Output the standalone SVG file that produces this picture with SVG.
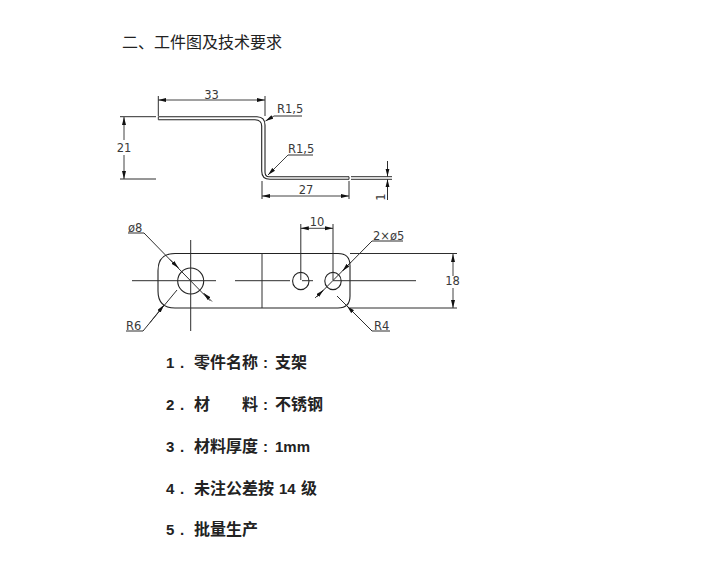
<svg xmlns="http://www.w3.org/2000/svg" width="706" height="561" viewBox="0 0 706 561">
<style>
.l{fill:none;stroke:#2e2e2e;stroke-width:1}
.s{fill:none;stroke:#222;stroke-width:1.1}
.a{fill:none;stroke:#2e2e2e;stroke-width:.9;marker-end:url(#ah)}
.d{fill:none;stroke:#2e2e2e;stroke-width:.9;marker-start:url(#ah);marker-end:url(#ah)}
.c{font-family:"DejaVu Sans",sans-serif;font-size:11.5px;fill:#3a3a3a}
.t{font-family:"Liberation Sans","Noto Sans CJK SC",sans-serif;font-size:15px;font-weight:700;fill:#222}
.z{font-family:"Noto Sans CJK SC",sans-serif;font-size:16px;font-weight:700}
.h{font-family:"Noto Sans CJK SC",sans-serif;font-size:16px;font-weight:400;fill:#222}
</style>
<defs>
<marker id="ah" markerUnits="userSpaceOnUse" markerWidth="9" markerHeight="5" refX="8" refY="2.200" orient="auto-start-reverse"><path d="M0 0.200L8 2.200L0 4.200Z" fill="#111"/></marker>
</defs>
<rect width="706" height="561" fill="#fff"/>
<text id="title" class="h" x="122" y="48">二、工件图及技术要求</text>
<g id="profile">
<path class="s" d="M158.300 116.700H257Q265 117 265 125V172Q265 176.700 269 176.700H349"/>
<path class="s" d="M158.300 119.700H255Q261.700 120 261.700 126V171Q261.700 179.300 270 179.300H349"/>
<path class="l" d="M158.300 116.700V119.700M349 176.700V179.300"/>
<path class="l" d="M351 176.700H392M351 179.300H392"/>
</g>
<g id="plate">
<path class="s" d="M175 253.500H338Q350 253.500 350 265.500V296Q350 308 338 308H175Q158 308 158 291V270.500Q158 253.500 175 253.500Z"/>
<path class="l" d="M262 253.500V308"/>
<circle class="s" cx="190.700" cy="281" r="13"/>
<ellipse class="s" cx="300.800" cy="281" rx="8.200" ry="8.600"/>
<ellipse class="s" cx="333" cy="281" rx="8.200" ry="8.600"/>
<path class="l" d="M132 280.700H216M235 280.700H290M302 280.700H313M333 280.700H416M190.700 240V331"/>
</g>
<g id="connectors">
<path class="l" d="M158.300 96V116M265 96V116"/>
<path class="d" d="M158.300 100H265"/>
<path class="l" d="M120 116.700H156M120 179H156"/>
<path class="a" d="M124 140V117"/>
<path class="a" d="M124 155V179"/>
<path class="l" d="M262 181V199M349 181V199"/>
<path class="d" d="M262 196H349"/>
<path class="l" d="M387.500 161V176M387.500 180V200"/>
<path class="a" d="M387.500 165V176.500"/>
<path class="a" d="M387.500 190V179.300"/>
<path class="l" d="M274 116H302"/>
<path class="a" d="M274 116L265.500 121"/>
<path class="l" d="M288 155H313"/>
<path class="a" d="M288 155L268 175"/>
<path class="l" d="M128 233H144L210 300.700"/>
<path class="a" d="M170 259.500L178.500 268"/>
<path class="a" d="M212 301.500L203.500 293"/>
<path class="l" d="M126 331H143L177 290"/>
<path class="a" d="M150 322.500L164 305"/>
<path class="l" d="M300.800 224V280M333 224V280"/>
<path class="d" d="M300.800 228.300H333"/>
<path class="l" d="M372 241H403M372 241L316.700 297"/>
<path class="a" d="M351 262L342.500 271"/>
<path class="a" d="M315 298L323.500 290"/>
<path class="l" d="M337 296L372 331H390"/>
<path class="a" d="M360 319L347 306"/>
<path class="l" d="M350 253.500H457M350 308H457"/>
<path class="a" d="M453 276V254"/>
<path class="a" d="M453 288V308"/>
</g>
<g id="dim-labels">
<text class="c" x="211.500" y="99" text-anchor="middle">33</text>
<text class="c" x="124" y="152" text-anchor="middle">21</text>
<text class="c" x="277" y="113">R1,5</text>
<text class="c" x="288" y="153">R1,5</text>
<text class="c" x="306" y="194" text-anchor="middle">27</text>
<text class="c" transform="translate(385 197) rotate(-90)" text-anchor="middle" x="0" y="0">1</text>
<text class="c" x="128" y="232">ø8</text>
<text class="c" x="126" y="330">R6</text>
<text class="c" x="317" y="226" text-anchor="middle">10</text>
<text class="c" x="373" y="240">2×ø5</text>
<text class="c" x="374" y="330">R4</text>
<text class="c" x="452.500" y="285" text-anchor="middle">18</text>
</g>
<g id="requirements">
<text class="t" y="368"><tspan x="166">1</tspan><tspan x="180">.</tspan><tspan x="194" class="z">零件名称</tspan><tspan x="263">:</tspan><tspan x="275" class="z">支架</tspan></text>
<text class="t" y="410"><tspan x="166">2</tspan><tspan x="180">.</tspan><tspan x="194" class="z">材</tspan><tspan x="242" class="z">料</tspan><tspan x="263">:</tspan><tspan x="275" class="z">不锈钢</tspan></text>
<text class="t" y="452"><tspan x="166">3</tspan><tspan x="180">.</tspan><tspan x="194" class="z">材料厚度</tspan><tspan x="263">:</tspan><tspan x="275">1mm</tspan></text>
<text class="t" y="494"><tspan x="166">4</tspan><tspan x="180">.</tspan><tspan x="194" class="z">未注公差按</tspan><tspan x="279">14</tspan><tspan x="301" class="z">级</tspan></text>
<text class="t" y="535"><tspan x="166">5</tspan><tspan x="180">.</tspan><tspan x="194" class="z">批量生产</tspan></text>
</g>
</svg>
